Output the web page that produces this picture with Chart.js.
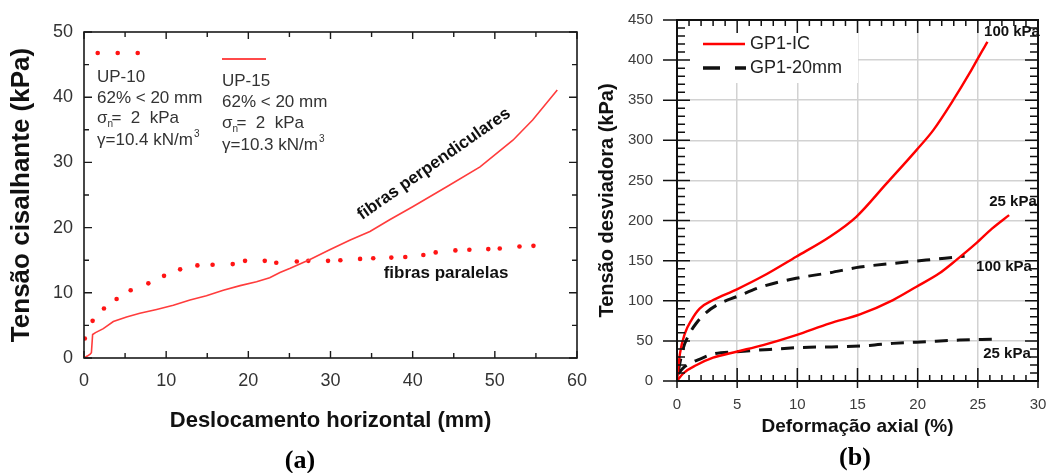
<!DOCTYPE html>
<html><head><meta charset="utf-8">
<script src="https://cdn.jsdelivr.net/npm/chart.js@4.4.1/dist/chart.umd.min.js"></script>
<style>
html,body{margin:0;padding:0;background:#fff;width:1050px;height:473px;overflow:hidden}
canvas{position:absolute;top:0}
#ca{left:0}
#cb{left:590px}
</style></head><body>
<canvas id="ca" width="590" height="473"></canvas>
<canvas id="cb" width="460" height="473"></canvas>
<script>
// ---------- Chart (a) data ----------
const up15X = [0, 0.4, 0.75, 0.9, 1.05, 1.4, 2.35, 3.57, 5.18, 6.8, 8.84, 10.87, 12.9, 14.9, 16.95, 19.0, 21.0, 22.6, 23.85, 25.1, 27.5, 29.9, 32.4, 34.8, 37.2, 40.0, 44.2, 48.2, 52.2, 54.6, 57.6];
const up15Y = [0, 0.3, 0.6, 0.8, 3.6, 3.9, 4.5, 5.6, 6.3, 6.85, 7.45, 8.1, 8.9, 9.55, 10.4, 11.1, 11.7, 12.3, 13.1, 13.75, 15.1, 16.6, 18.1, 19.4, 21.2, 23.2, 26.3, 29.3, 33.4, 36.5, 41.1];
const up10X = [0.1, 1.05, 2.43, 3.97, 5.68, 7.83, 9.74, 11.7, 13.8, 15.65, 18.1, 19.6, 22.0, 23.4, 25.9, 27.3, 29.7, 31.2, 33.6, 35.2, 37.4, 39.1, 41.3, 42.8, 45.2, 46.9, 49.2, 50.6, 53.0, 54.7];
const up10Y = [3.0, 5.7, 7.6, 9.05, 10.4, 11.45, 12.6, 13.6, 14.2, 14.3, 14.4, 14.9, 14.9, 14.6, 14.8, 14.9, 14.9, 15.0, 15.2, 15.3, 15.4, 15.5, 15.8, 16.2, 16.5, 16.6, 16.7, 16.8, 17.1, 17.2];
const xTicksA = [0, 10, 20, 30, 40, 50, 60];
const yTicksA = [0, 10, 20, 30, 40, 50];

// ---------- Chart (b) data ----------
const ic100X = [0, 0.25, 0.66, 1.2, 1.9, 3.0, 4.94, 7.15, 9.9, 12.7, 14.9, 17.4, 19.9, 21.3, 22.95, 24.3, 25.15, 25.8];
const ic100Y = [0, 34.5, 59.4, 76, 90.6, 100.9, 114, 130.8, 154.9, 179.8, 204.7, 246, 287.8, 312.7, 350, 383.4, 406, 422.6];
const ic25X = [0, 0.52, 1.63, 3.0, 4.94, 7.15, 9.9, 12.7, 15.2, 17.95, 19.9, 21.8, 23.2, 24.85, 26.2, 27.6];
const ic25Y = [0, 9.6, 19.9, 29, 36.5, 44.8, 57.3, 71.9, 83, 100.9, 117.5, 134.2, 150.7, 171.5, 190.2, 206.8];
const mm100X = [0.1, 0.5, 1.0, 1.6, 2.4, 3.6, 4.94, 7.15, 9.9, 12.7, 15.2, 17.95, 20.7, 23.5, 23.9];
const mm100Y = [12, 40, 58, 72, 85, 97, 105, 118, 128, 135, 142, 146.6, 150.7, 154.9, 155.5];
const mm25X = [0.05, 0.5, 1.08, 2.0, 3.0, 4.94, 7.7, 10.5, 13.3, 16.0, 17.95, 20.7, 23.5, 26.2];
const mm25Y = [8, 16, 22, 28, 33.6, 36.5, 39.4, 41.9, 42.7, 44.4, 46.9, 49, 51, 52];
const xTicksB = [0, 5, 10, 15, 20, 25, 30];
const yTicksB = [0, 50, 100, 150, 200, 250, 300, 350, 400, 450];

const FONT = "'Liberation Sans', Arial, Helvetica, sans-serif";
const SERIF = "'Liberation Serif', 'Times New Roman', serif";
const pts = (xs, ys) => xs.map((x, i) => ({x: x, y: ys[i]}));
const fixTicks = arr => (s => { s.ticks = arr.map(v => ({value: v})); });
const fitX = h => (s => { s.height = h; s.paddingLeft = 0; s.paddingRight = 0; });
const fitY = w => (s => { s.width = w; s.paddingTop = 0; s.paddingBottom = 0; });

// ---------- plugin (a) ----------
const frameA = {
  id: 'frameA',
  afterDraw(chart) {
    const {ctx, chartArea: a, scales: {x, y}} = chart;
    ctx.save();
    ctx.strokeStyle = '#1a1a1a';
    ctx.lineWidth = 1.6;
    ctx.strokeRect(a.left, a.top, a.right - a.left, a.bottom - a.top);
    ctx.lineWidth = 1.4;
    ctx.beginPath();
    for (let v = 0; v <= 60; v += 5) {
      const L = v % 10 === 0 ? 7 : 5, p = x.getPixelForValue(v);
      ctx.moveTo(p, a.bottom); ctx.lineTo(p, a.bottom - L);
      ctx.moveTo(p, a.top); ctx.lineTo(p, a.top + L);
    }
    for (let v = 0; v <= 50; v += 5) {
      const L = v % 10 === 0 ? 8 : 5, p = y.getPixelForValue(v);
      ctx.moveTo(a.left, p); ctx.lineTo(a.left + L, p);
      ctx.moveTo(a.right, p); ctx.lineTo(a.right - L, p);
    }
    ctx.stroke();

    // legend samples
    ctx.fillStyle = '#ff1414';
    [97.7, 117.7, 137.7].forEach(px => { ctx.beginPath(); ctx.arc(px, 53, 2.3, 0, Math.PI * 2); ctx.fill(); });
    ctx.strokeStyle = '#ff4a4a'; ctx.lineWidth = 2;
    ctx.beginPath(); ctx.moveTo(222, 59); ctx.lineTo(266, 59); ctx.stroke();

    // annotation blocks
    ctx.fillStyle = '#333';
    ctx.textBaseline = 'middle';
    ctx.textAlign = 'left';
    const block = (x0, ys, lab, gam) => {
      ctx.font = '17px ' + FONT;
      ctx.fillText(lab, x0, ys[0]);
      ctx.fillText('62% < 20 mm', x0, ys[1]);
      ctx.fillText('σ', x0, ys[2]);
      let w = ctx.measureText('σ').width;
      ctx.font = '10px ' + FONT;
      ctx.fillText('n', x0 + w, ys[2] + 6);
      ctx.font = '17px ' + FONT;
      ctx.fillText('=  2  kPa', x0 + w + 4, ys[2]);
      ctx.fillText('γ=' + gam + ' kN/m', x0, ys[3]);
      w = ctx.measureText('γ=' + gam + ' kN/m').width;
      ctx.font = '10px ' + FONT;
      ctx.fillText('3', x0 + w + 1, ys[3] - 6);
    };
    block(97, [77, 98, 118, 140], 'UP-10', '10.4');
    block(222, [81, 102, 123, 145], 'UP-15', '10.3');

    ctx.fillStyle = '#111';
    ctx.font = 'bold 17px ' + FONT;
    ctx.textAlign = 'center';
    ctx.fillText('fibras paralelas', 446, 273);
    ctx.save();
    ctx.translate(434, 164);
    ctx.rotate(-35 * Math.PI / 180);
    ctx.fillText('fibras perpendiculares', 0, 0);
    ctx.restore();

    ctx.font = 'bold 26px ' + SERIF;
    ctx.fillStyle = '#000';
    ctx.fillText('(a)', 300, 461);
    ctx.restore();
  }
};

new Chart(document.getElementById('ca'), {
  type: 'line',
  data: {datasets: [
    {label: 'UP-15', data: pts(up15X, up15Y), borderColor: '#ff3c3c', borderWidth: 1.6, pointRadius: 0, tension: 0, fill: false},
    {label: 'UP-10', data: pts(up10X, up10Y), showLine: false, pointRadius: 2.3, pointBorderWidth: 0, pointBackgroundColor: '#ff1414', borderColor: '#ff1414'}
  ]},
  options: {
    responsive: false, animation: false, devicePixelRatio: 1,
    layout: {padding: {left: 0, right: 13, top: 32, bottom: 35}},
    plugins: {legend: {display: false}, tooltip: {enabled: false}},
    scales: {
      x: {type: 'linear', min: 0, max: 60, afterBuildTicks: fixTicks(xTicksA), afterFit: fitX(80),
        grid: {display: false, drawTicks: false}, border: {display: false},
        ticks: {padding: 12, color: '#333', font: {family: FONT, size: 18}, maxRotation: 0},
        title: {display: true, text: 'Deslocamento horizontal (mm)', color: '#111', font: {family: FONT, size: 22, weight: 'bold'}, padding: {top: 0, bottom: 4}}},
      y: {type: 'linear', min: 0, max: 50, afterBuildTicks: fixTicks(yTicksA), afterFit: fitY(84),
        grid: {display: false, drawTicks: false}, border: {display: false},
        ticks: {padding: 11, color: '#333', font: {family: FONT, size: 18}},
        title: {display: true, text: 'Tensão cisalhante (kPa)', color: '#111', font: {family: FONT, size: 26, weight: 'bold'}, padding: {top: 6, bottom: 0}}}
    }
  },
  plugins: [frameA]
});

// ---------- plugin (b) ----------
const frameB = {
  id: 'frameB',
  beforeDatasetsDraw(chart) {
    const {ctx, chartArea: a} = chart;
    ctx.save();
    ctx.fillStyle = '#fff';
    ctx.fillRect(a.left + 1, a.top + 1, 267 - a.left, 82 - a.top);
    ctx.restore();
  },
  afterDraw(chart) {
    const {ctx, chartArea: a, scales: {x, y}} = chart;
    ctx.save();
    ctx.strokeStyle = '#111';
    ctx.lineWidth = 2;
    ctx.strokeRect(a.left, a.top, a.right - a.left, a.bottom - a.top);
    ctx.lineWidth = 1.5;
    ctx.beginPath();
    for (let v = 0; v <= 30; v += 1) {
      const maj = v % 5 === 0, p = x.getPixelForValue(v);
      ctx.moveTo(p, a.bottom + (maj ? 7 : 0)); ctx.lineTo(p, a.bottom - (maj ? 13 : 6));
      ctx.moveTo(p, a.top); ctx.lineTo(p, a.top + (maj ? 13 : 6));
    }
    for (let v = 0; v <= 450; v += 10) {
      const maj = v % 50 === 0, p = y.getPixelForValue(v);
      ctx.moveTo(a.left - (maj ? 14 : 0), p); ctx.lineTo(a.left + (maj ? 13 : 8), p);
      ctx.moveTo(a.right, p); ctx.lineTo(a.right - (maj ? 13 : 8), p);
    }
    ctx.stroke();

    // legend
    ctx.strokeStyle = '#ff0000'; ctx.lineWidth = 2.6;
    ctx.beginPath(); ctx.moveTo(113, 44); ctx.lineTo(155, 44); ctx.stroke();
    ctx.strokeStyle = '#111'; ctx.lineWidth = 3.5;
    ctx.beginPath(); ctx.moveTo(113, 68); ctx.lineTo(130, 68); ctx.moveTo(145, 68); ctx.lineTo(156, 68); ctx.stroke();
    ctx.fillStyle = '#222';
    ctx.font = '18px ' + FONT;
    ctx.textBaseline = 'middle';
    ctx.textAlign = 'left';
    ctx.fillText('GP1-IC', 160, 44);
    ctx.fillText('GP1-20mm', 160, 68);

    ctx.font = 'bold 15px ' + FONT;
    ctx.textAlign = 'center';
    ctx.fillStyle = '#111';
    ctx.fillText('100 kPa', 422, 32);
    ctx.fillText('25 kPa', 423, 202);
    ctx.fillText('100 kPa', 414, 267);
    ctx.fillText('25 kPa', 417, 354);

    ctx.font = 'bold 26px ' + SERIF;
    ctx.fillStyle = '#000';
    ctx.fillText('(b)', 265, 458);
    ctx.restore();
  }
};

new Chart(document.getElementById('cb'), {
  type: 'line',
  data: {datasets: [
    {label: 'GP1-IC 100 kPa', data: pts(ic100X, ic100Y), borderColor: '#ff0000', borderWidth: 2.4, pointRadius: 0, cubicInterpolationMode: 'monotone', fill: false},
    {label: 'GP1-IC 25 kPa', data: pts(ic25X, ic25Y), borderColor: '#ff0000', borderWidth: 2.4, pointRadius: 0, cubicInterpolationMode: 'monotone', fill: false},
    {label: 'GP1-20mm 100 kPa', data: pts(mm100X, mm100Y), borderColor: '#111', borderWidth: 3, borderDash: [13, 9], pointRadius: 0, cubicInterpolationMode: 'monotone', fill: false},
    {label: 'GP1-20mm 25 kPa', data: pts(mm25X, mm25Y), borderColor: '#111', borderWidth: 3, borderDash: [13, 9], pointRadius: 0, cubicInterpolationMode: 'monotone', fill: false}
  ]},
  options: {
    responsive: false, animation: false, devicePixelRatio: 1,
    layout: {padding: {left: 0, right: 12, top: 20, bottom: 32}},
    plugins: {legend: {display: false}, tooltip: {enabled: false}},
    scales: {
      x: {type: 'linear', min: 0, max: 30, afterBuildTicks: fixTicks(xTicksB), afterFit: fitX(60),
        grid: {color: '#d2d2d2', lineWidth: 1.5, drawTicks: false}, border: {display: false},
        ticks: {padding: 15, color: '#3c3c3c', font: {family: FONT, size: 15}, maxRotation: 0},
        title: {display: true, text: 'Deformação axial (%)', color: '#111', font: {family: FONT, size: 19, weight: 'bold'}, padding: {top: 0, bottom: 3}}},
      y: {type: 'linear', min: 0, max: 450, afterBuildTicks: fixTicks(yTicksB), afterFit: fitY(87),
        grid: {color: '#d2d2d2', lineWidth: 1.5, drawTicks: false}, border: {display: false},
        ticks: {padding: 24, color: '#3c3c3c', font: {family: FONT, size: 15}},
        title: {display: true, text: 'Tensão desviadora (kPa)', color: '#111', font: {family: FONT, size: 20, weight: 'bold'}, padding: {top: 5, bottom: 0}}}
    }
  },
  plugins: [frameB]
});
</script>
</body></html>
